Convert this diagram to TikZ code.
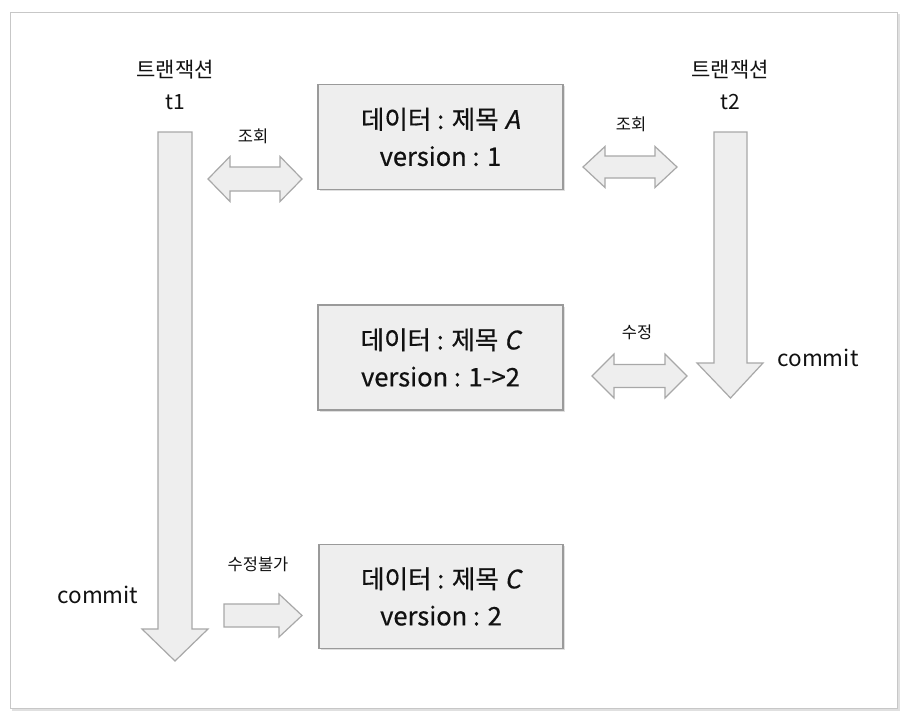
\documentclass[tikz,border=0pt]{standalone}
\usepackage{fontspec}
\setmainfont{Noto Sans CJK KR}[AutoFakeSlant=0.2]
\newfontfamily\boxfont{Noto Sans CJK KR}[FakeBold=0.6, AutoFakeSlant=0.2]
\usetikzlibrary{shadows}
\definecolor{shapefill}{HTML}{EEEEEE}
\definecolor{shapeline}{HTML}{A8A8A8}
\definecolor{boxline}{HTML}{9A9A9A}
\definecolor{txt}{HTML}{111111}
\newcommand{\mydblarrow}[6]{% x1 x2 yc headhalf shafthalf headlen
  \draw[blockarrow] (#1,#3) -- ({#1+#6},{#3-#4}) -- ({#1+#6},{#3-#5}) -- ({#2-#6},{#3-#5}) -- ({#2-#6},{#3-#4}) -- (#2,#3) -- ({#2-#6},{#3+#4}) -- ({#2-#6},{#3+#5}) -- ({#1+#6},{#3+#5}) -- ({#1+#6},{#3+#4}) -- cycle;}
\newcommand{\mydownarrow}[7]{% xl xr ytop yheadtop hl hr ytip
  \draw[blockarrow] (#1,#3) -- (#2,#3) -- (#2,#4) -- (#6,#4) -- ({(#1+#2)/2},#7) -- (#5,#4) -- (#1,#4) -- cycle;}
\begin{document}
\begin{tikzpicture}[x=1pt,y=-1pt,
  blockarrow/.style={draw=shapeline, fill=shapefill, line width=1.2pt, line join=miter},
  databox/.style={draw=boxline, fill=shapefill, line width=1.2pt, minimum width=245pt, minimum height=105pt, inner sep=0pt, align=center, font=\boxfont\fontsize{25.5}{37}\selectfont, text=txt, drop shadow={shadow xshift=1.5pt, shadow yshift=-1.5pt, opacity=0.25}},
  toplabel/.style={font=\fontsize{21}{32}\selectfont, text=txt, align=center},
  smalllabel/.style={font=\fontsize{16.5}{20}\selectfont, text=txt},
  commitlabel/.style={font=\fontsize{22.5}{26}\selectfont, text=txt}]
\useasboundingbox (0,0) rectangle (908,720);
\fill[white] (0,0) rectangle (908,720);
% outer frame
\fill[black!12] (12,14) rectangle (900,711);
\draw[draw=black!22, fill=white, line width=0.8pt] (10,12) rectangle (897,708);

% transaction labels
\node[toplabel] (t1) at (175,85) {트랜잭션\\t1};
\node[toplabel] (t2) at (730,85) {트랜잭션\\t2};

% transaction arrows
\mydownarrow{158}{192}{132}{629}{142}{208}{661}
\mydownarrow{714}{747}{132}{363}{697}{763}{398}
\node[commitlabel] (c1) at (98,595) {commit};
\node[commitlabel] (c2) at (818,358) {commit};

% data boxes
\node[databox] (bA) at (440.5,137) {데이터 : 제목 \textit{A}\\version : 1};
\node[databox] (bB) at (440.5,357.5) {데이터 : 제목 \textit{C}\\version : 1->2};
\node[databox, minimum width=244pt, minimum height=104pt] (bC) at (441,596.5) {데이터 : 제목 \textit{C}\\version : 2};

% double arrows
\mydblarrow{208}{302}{179}{22.5}{12}{22}
\node[smalllabel] (l1) at (253,136) {조회};
\mydblarrow{583}{677}{167}{20.5}{11}{22}
\node[smalllabel] (l2) at (631,124) {조회};
\mydblarrow{592}{687}{376}{22}{11.5}{22}
\node[smalllabel] (l3) at (637,332) {수정};

% single right arrow
\draw[blockarrow] (224,604) -- (279,604) -- (279,594) -- (302,615.5) -- (279,637) -- (279,627) -- (224,627) -- cycle;
\node[smalllabel] (l4) at (258,564) {수정불가};
\end{tikzpicture}
\end{document}
